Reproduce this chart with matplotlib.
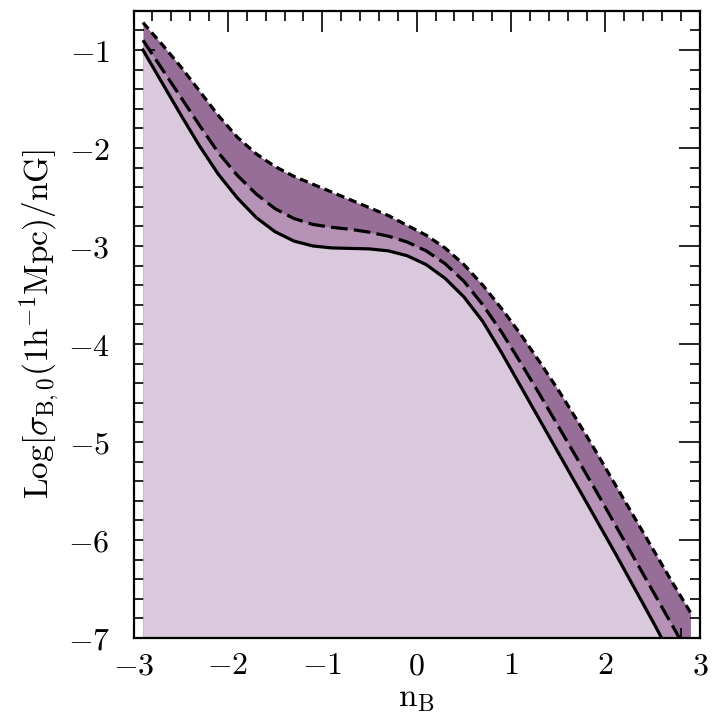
import matplotlib
matplotlib.use("Agg")
import matplotlib.pyplot as plt
from matplotlib.ticker import MultipleLocator, FuncFormatter

plt.rcParams['mathtext.fontset'] = 'cm'
plt.rcParams['lines.scale_dashes'] = False

# spectral index grid
n_B = [-2.9, -2.7, -2.5, -2.3, -2.1, -1.9, -1.7, -1.5, -1.3, -1.1,
       -0.9, -0.7, -0.5, -0.3, -0.1, 0.1, 0.3, 0.5, 0.7, 0.9,
       1.1, 1.3, 1.5, 1.7, 1.9, 2.1, 2.3, 2.5, 2.7, 2.9]

# lower bound (solid)
sigma_solid = [-1.00, -1.33, -1.66, -1.98, -2.27, -2.51, -2.71, -2.855, -2.95, -3.00,
               -3.02, -3.025, -3.03, -3.05, -3.10, -3.19, -3.33, -3.52, -3.77, -4.09,
               -4.43, -4.77, -5.11, -5.45, -5.79, -6.13, -6.48, -6.83, -7.19, -7.55]

# middle bound (long dashes)
sigma_long = [-0.90, -1.19, -1.48, -1.77, -2.05, -2.28, -2.47, -2.62, -2.72, -2.78,
              -2.81, -2.83, -2.86, -2.90, -2.96, -3.05, -3.18, -3.36, -3.60, -3.88,
              -4.19, -4.51, -4.84, -5.17, -5.50, -5.84, -6.18, -6.52, -6.86, -7.20]

# upper bound (short dashes)
sigma_short = [-0.72, -0.94, -1.17, -1.42, -1.67, -1.89, -2.06, -2.19, -2.29, -2.37,
               -2.45, -2.53, -2.61, -2.69, -2.79, -2.89, -3.02, -3.19, -3.40, -3.64,
               -3.90, -4.18, -4.47, -4.78, -5.10, -5.43, -5.76, -6.09, -6.42, -6.74]

fig = plt.figure(figsize=(7.12, 7.2), dpi=100)
ax = fig.add_axes([0.1875, 0.114, 0.7955, 0.871])

ymin = -7.0
# shaded bands, stacked from top curve downwards
ax.fill_between(n_B, ymin - 1, sigma_short, color='#966e97', lw=0, zorder=1)
ax.fill_between(n_B, ymin - 1, sigma_long, color='#b693b6', lw=0, zorder=2)
ax.fill_between(n_B, ymin - 1, sigma_solid, color='#dac8dc', lw=0, zorder=3)

ax.plot(n_B, sigma_solid, color='black', lw=2.3, zorder=4)
ax.plot(n_B, sigma_long, color='black', lw=2.3, ls=(0, (12.0, 4.5)), zorder=4)
ax.plot(n_B, sigma_short, color='black', lw=2.3, ls=(0, (6.0, 3.5)), zorder=4)

ax.set_xlim(-3, 3)
ax.set_ylim(-7, -0.6)

ax.xaxis.set_major_locator(MultipleLocator(1))
ax.xaxis.set_minor_locator(MultipleLocator(0.2))
ax.yaxis.set_major_locator(MultipleLocator(1))
ax.yaxis.set_minor_locator(MultipleLocator(0.2))
fmt = FuncFormatter(lambda v, pos: r'$%d$' % round(v))
ax.xaxis.set_major_formatter(fmt)
ax.yaxis.set_major_formatter(fmt)

ax.tick_params(which='both', direction='in', top=True, right=True,
               width=1.2, color='black')
ax.tick_params(which='major', length=15, labelsize=23)
ax.tick_params(axis='x', which='major', pad=9)
ax.tick_params(axis='y', which='major', pad=17)
ax.tick_params(which='minor', length=7.5)
for s in ax.spines.values():
    s.set_linewidth(1.6)
    s.set_zorder(5)

ax.set_xlabel(r'$\mathrm{n}_{\rm B}$', fontsize=24, labelpad=0)
ax.set_ylabel(r'$\mathrm{Log}[\sigma_{\rm B,0}(1\mathrm{h}^{-1}\mathrm{Mpc})/\mathrm{nG}]$',
              fontsize=24, labelpad=4)

fig.savefig('out.png', dpi=100)
